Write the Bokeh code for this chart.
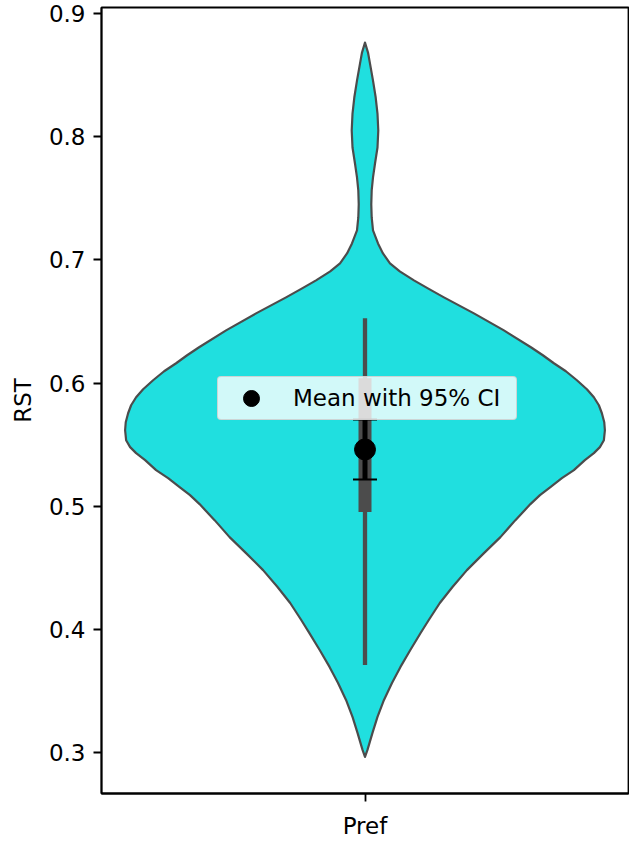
from bokeh.plotting import figure
from bokeh.models import FactorRange, Range1d, FixedTicker, Legend, LegendItem
from bokeh.embed import file_html
from bokeh.resources import INLINE

# ---------------- data ----------------
category = ["Pref"]

# violin outline: RST values and half-width (in category units) of the density
rst_grid = [0.8765, 0.8684, 0.8594, 0.8456, 0.8319, 0.8189, 0.8051, 0.7913,
            0.7783, 0.7670, 0.7564, 0.7451, 0.7345, 0.7240, 0.7134, 0.7053,
            0.6972, 0.6907, 0.6834, 0.6765, 0.6696, 0.6566, 0.6428, 0.6291,
            0.6226, 0.6161, 0.6096, 0.6023, 0.5950, 0.5885, 0.5820, 0.5755,
            0.5682, 0.5617, 0.5536, 0.5480, 0.5431, 0.5374, 0.5293, 0.5228,
            0.5155, 0.5090, 0.5017, 0.4887, 0.4749, 0.4619, 0.4481, 0.4344,
            0.4214, 0.4076, 0.3970, 0.3832, 0.3695, 0.3565, 0.3427, 0.3289,
            0.3159, 0.3021, 0.2964]
half_width = [0.0, 0.0057, 0.0095, 0.0152, 0.0203, 0.0237, 0.0252, 0.0237,
              0.0190, 0.0152, 0.0127, 0.0119, 0.0127, 0.0152, 0.0247, 0.0341,
              0.0474, 0.0660, 0.0929, 0.1210, 0.1498, 0.2067, 0.2636, 0.3148,
              0.3375, 0.3584, 0.3812, 0.4021, 0.4210, 0.4343, 0.4438, 0.4495,
              0.4540, 0.4552, 0.4533, 0.4457, 0.4343, 0.4172, 0.3964, 0.3736,
              0.3518, 0.3320, 0.3139, 0.2854, 0.2570, 0.2257, 0.1934, 0.1660,
              0.1420, 0.1210, 0.1055, 0.0860, 0.0673, 0.0512, 0.0360, 0.0237,
              0.0142, 0.0047, 0.0]

# inner box statistics
whisker_lo = [0.3711]
whisker_hi = [0.6526]
q1 = [0.4954]
q3 = [0.6039]

# mean with 95% CI
mean = [0.5461]
ci_lo = [0.5217]
ci_hi = [0.5704]

y_ticks = [0.3, 0.4, 0.5, 0.6, 0.7, 0.8, 0.9]
y_tick_labels = ["0.3", "0.4", "0.5", "0.6", "0.7", "0.8", "0.9"]

FONT = "DejaVu Sans"
FS = "23px"
VIOLIN = "#20dfdf"
GRAY = "#4c4c4c"

p = figure(width=629, height=841,
           x_range=FactorRange(factors=category, range_padding=0),
           y_range=Range1d(0.2667, 0.9050),
           output_backend="svg", toolbar_location=None,
           min_border_left=101, min_border_right=1,
           min_border_top=7, min_border_bottom=48)

p.background_fill_color = "white"
p.border_fill_color = "white"
p.outline_line_color = "black"
p.outline_line_width = 1.8
p.outline_line_alpha = 1.0
p.xgrid.visible = False
p.ygrid.visible = False

# y axis
p.yaxis.ticker = FixedTicker(ticks=y_ticks)
p.yaxis.major_label_overrides = dict(zip(y_ticks, y_tick_labels))
p.yaxis.axis_label = "RST"
p.yaxis.axis_label_standoff = 10
p.yaxis.major_label_standoff = 8

for ax in (p.xaxis[0], p.yaxis[0]):
    ax.axis_line_color = "black"
    ax.axis_line_width = 1.8
    ax.major_tick_line_color = "black"
    ax.major_tick_line_width = 1.8
    ax.major_tick_out = 8
    ax.major_tick_in = 0
    ax.minor_tick_out = 0
    ax.minor_tick_in = 0
    ax.major_label_text_font = FONT
    ax.major_label_text_font_size = FS
    ax.major_label_text_color = "black"
    ax.axis_label_text_font = FONT
    ax.axis_label_text_font_size = FS
    ax.axis_label_text_font_style = "normal"
    ax.axis_label_text_color = "black"

p.xaxis.major_label_standoff = 11

# violin body
vx = [(category[0], -w) for w in half_width] + [(category[0], w) for w in reversed(half_width)]
vy = list(rst_grid) + list(reversed(rst_grid))
p.patch(x=vx, y=vy, fill_color=VIOLIN, line_color=GRAY, line_width=2.2,
        line_join="round")

# inner box
p.segment(x0=category, y0=whisker_lo, x1=category, y1=whisker_hi,
          line_color=GRAY, line_width=4.3)
p.segment(x0=category, y0=q1, x1=category, y1=q3,
          line_color=GRAY, line_width=13, line_cap="butt")

# mean with CI
p.segment(x0=category, y0=ci_lo, x1=category, y1=ci_hi,
          line_color="black", line_width=5)
p.scatter(x=category * 2, y=ci_lo + ci_hi, marker="dash", size=24,
          line_color="black", line_width=2)
dot = p.scatter(x=category, y=mean, marker="circle", size=21,
                fill_color="black", line_color="black")

legend = Legend(items=[LegendItem(label="Mean with 95% CI", renderers=[dot])],
                location=(116, 373), margin=0, padding=1,
                glyph_width=64, glyph_height=40, label_standoff=10,
                label_width=222,
                label_text_font=FONT, label_text_font_size=FS,
                label_text_color="black",
                background_fill_color="white", background_fill_alpha=0.8,
                border_line_color="#cccccc", border_line_alpha=0.8,
                border_line_width=1.5)
if "border_radius" in Legend.properties():
    legend.border_radius = 4
p.add_layout(legend)

open("out.html", "w").write(file_html(p, INLINE))
